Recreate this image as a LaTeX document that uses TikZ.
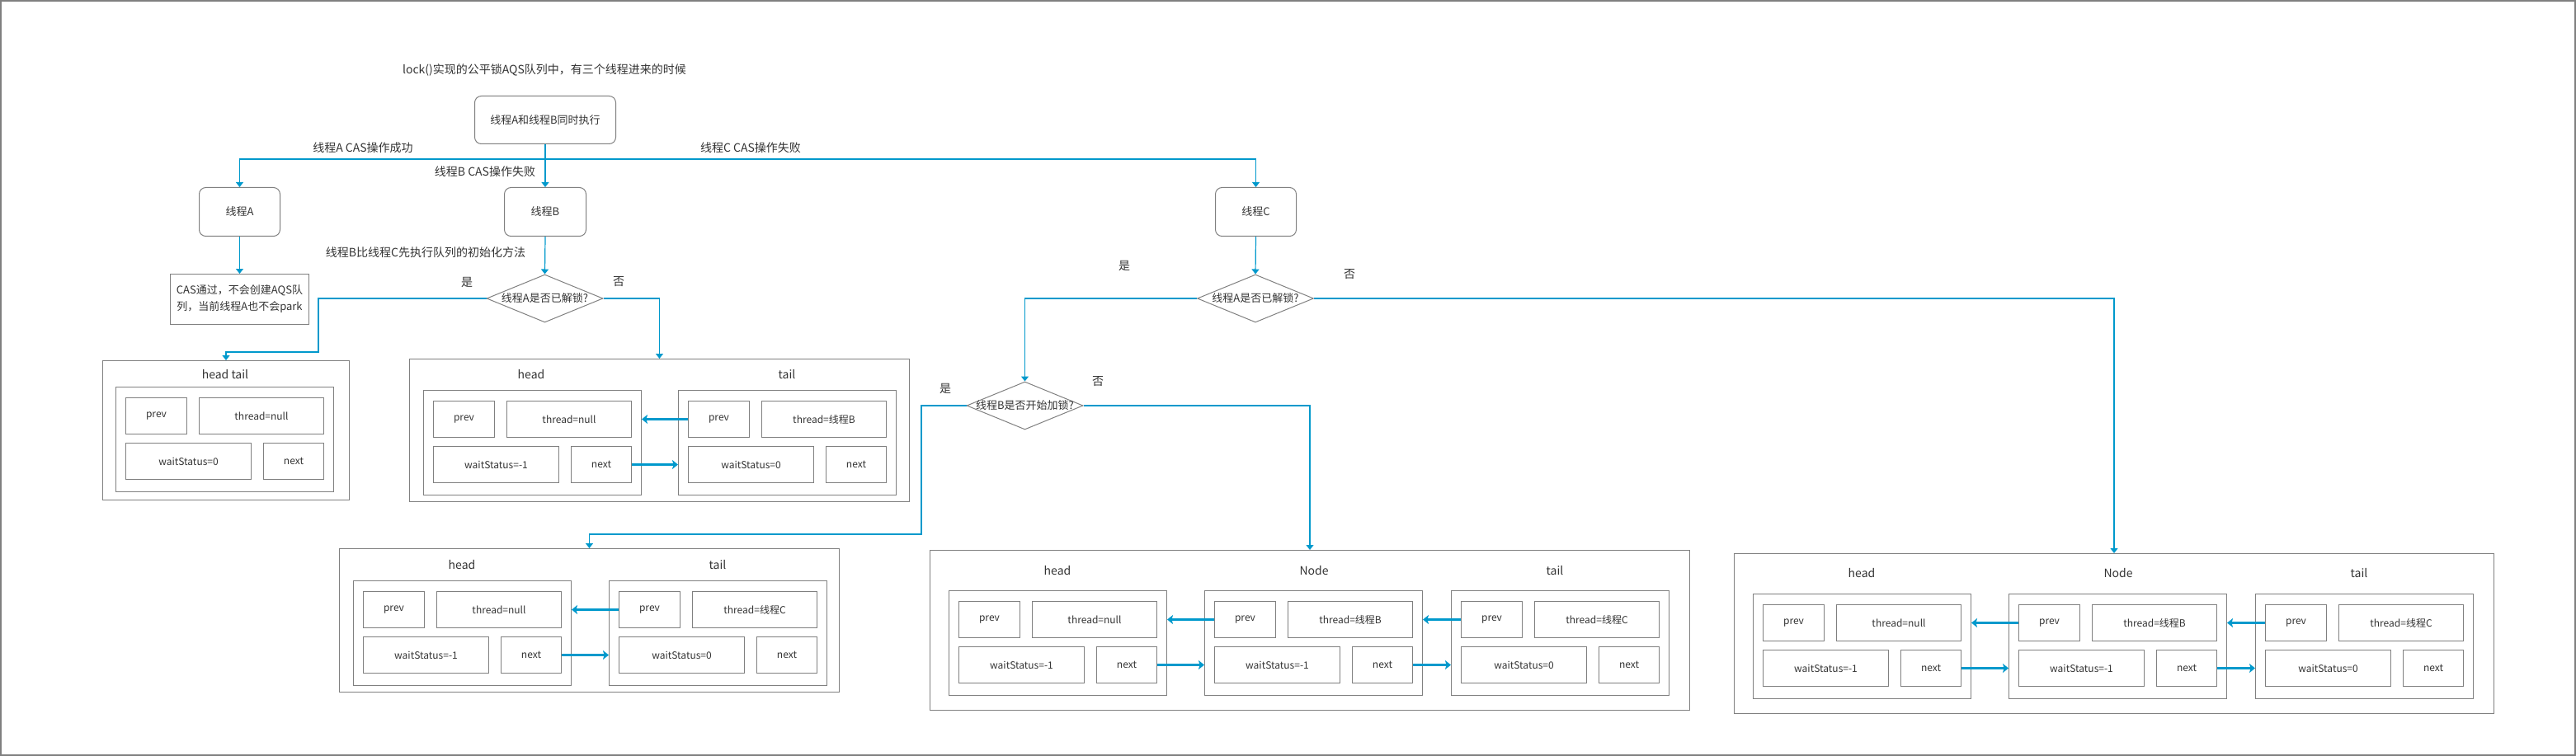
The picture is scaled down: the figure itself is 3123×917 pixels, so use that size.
\documentclass[tikz,border=0pt]{standalone}
\usepackage{fontspec}
\setmainfont{Noto Sans CJK SC}
\usetikzlibrary{arrows.meta,shapes.geometric}
\definecolor{flow}{HTML}{0099CC}
\definecolor{edgec}{HTML}{808080}
\definecolor{txt}{HTML}{333333}
\tikzset{
  box/.style={draw=edgec, line width=1pt, text=txt, inner sep=0pt, anchor=north west, font=\fontsize{12}{14}\selectfont},
  rbox/.style={box, rounded corners=8pt, font=\fontsize{13}{15}\selectfont},
  dia/.style={draw=edgec, line width=1pt, text=txt, diamond, inner sep=0pt, minimum width=141pt, minimum height=58pt, font=\fontsize{13}{15}\selectfont},
  lbl/.style={text=txt, inner sep=0pt, font=\fontsize{14}{16}\selectfont},
  flowline/.style={draw=flow, line width=1.2pt, -{Triangle[width=9pt,length=6pt]}},
  link/.style={draw=flow, line width=2.2pt, -{Stealth[width=11pt,length=7pt,inset=1.5pt]}}
}
\newcommand\qnode[5]{%
  \node[box, minimum width=264pt, minimum height=127pt] (#1) at (#2,#3) {};
  \node[box, minimum width=74pt, minimum height=44pt] (#1-prev) at (#2+12,#3+13) {prev};
  \node[box, minimum width=151pt, minimum height=44pt] (#1-thread) at (#2+101,#3+13) {#4};
  \node[box, minimum width=152pt, minimum height=44pt] (#1-ws) at (#2+12,#3+68) {#5};
  \node[box, minimum width=73pt, minimum height=44pt] (#1-next) at (#2+179,#3+68) {next};
}
\begin{document}
\begin{tikzpicture}[x=1pt,y=-1pt]
\path[use as bounding box] (0,0) rectangle (3123,917);
\draw[edgec, line width=2pt] (1,1) rectangle (3122,916);

% title
\node[lbl] (title) at (660,85) {lock()实现的公平锁AQS队列中，有三个线程进来的时候};

% flow boxes
\node[rbox, minimum width=171pt, minimum height=58pt] (start) at (575,116) {线程A和线程B同时执行};
\node[rbox, minimum width=98pt, minimum height=59pt] (tA) at (241,227) {线程A};
\node[rbox, minimum width=99pt, minimum height=59pt] (tB) at (611,227) {线程B};
\node[rbox, minimum width=98pt, minimum height=59pt] (tC) at (1473,227) {线程C};
\node[box, minimum width=168pt, minimum height=61pt, align=center, font=\fontsize{13}{20}\selectfont] (cas) at (206,332) {CAS通过，不会创建AQS队\\列，当前线程A也不会park};

\node[dia] (d1) at (660.5,362) {\makebox[0pt]{线程A是否已解锁?}};
\node[dia] (dC) at (1522,362) {\makebox[0pt]{线程A是否已解锁?}};
\node[dia] (dD) at (1242.5,492) {\makebox[0pt]{线程B是否开始加锁?}};

% edge labels
\node[lbl] (lA) at (440,179) {线程A CAS操作成功};
\node[lbl] (lB) at (588,208) {线程B CAS操作失败};
\node[lbl] (lC) at (910,179) {线程C CAS操作失败};
\node[lbl] (lInit) at (516,306) {线程B比线程C先执行队列的初始化方法};
\node[lbl] (y1) at (566,342) {是};
\node[lbl] (n1) at (750,342) {否};
\node[lbl] (y2) at (1363,322) {是};
\node[lbl] (n2) at (1636,333) {否};
\node[lbl] (y3) at (1146,471) {是};
\node[lbl] (n3) at (1331,463) {否};

% queue box 1
\node[box, minimum width=299pt, minimum height=169pt] (box1) at (124,437) {};
\node[lbl] (box1-l) at (273,454) {head tail};
\qnode{b1}{140}{469}{thread=null}{waitStatus=0}

% queue box 2
\node[box, minimum width=606pt, minimum height=173pt] (box2) at (496,435) {};
\node[lbl] (box2-lh) at (644,454) {head};
\node[lbl] (box2-lt) at (954,454) {tail};
\qnode{b2h}{513}{473}{thread=null}{waitStatus=-1}
\qnode{b2t}{822}{473}{thread=线程B}{waitStatus=0}

% queue box 3
\node[box, minimum width=606pt, minimum height=174pt] (box3) at (411,665) {};
\node[lbl] (box3-lh) at (560,685) {head};
\node[lbl] (box3-lt) at (870,685) {tail};
\qnode{b3h}{428}{704}{thread=null}{waitStatus=-1}
\qnode{b3t}{738}{704}{thread=线程C}{waitStatus=0}

% queue box 4
\node[box, minimum width=921pt, minimum height=194pt] (box4) at (1127,667) {};
\node[lbl] (box4-lh) at (1282,692) {head};
\node[lbl] (box4-ln) at (1593,692) {Node};
\node[lbl] (box4-lt) at (1885,692) {tail};
\qnode{b4h}{1150}{716}{thread=null}{waitStatus=-1}
\qnode{b4n}{1460}{716}{thread=线程B}{waitStatus=-1}
\qnode{b4t}{1759}{716}{thread=线程C}{waitStatus=0}

% queue box 5
\node[box, minimum width=921pt, minimum height=194pt] (box5) at (2102,671) {};
\node[lbl] (box5-lh) at (2257,695) {head};
\node[lbl] (box5-ln) at (2568,695) {Node};
\node[lbl] (box5-lt) at (2860,695) {tail};
\qnode{b5h}{2125}{720}{thread=null}{waitStatus=-1}
\qnode{b5n}{2435}{720}{thread=线程B}{waitStatus=-1}
\qnode{b5t}{2734}{720}{thread=线程C}{waitStatus=0}

% flow connectors
\draw[flowline] (start.south) -- ++(0,18) -| (tA.north);
\draw[flowline] (start.south) -- ++(0,18) -| (tC.north);
\draw[flowline] (start.south) -- (tB.north);
\draw[flowline] (tA.south) -- (cas.north);
\draw[flowline] (tB.south) -- (d1.north);
\coordinate (k1) at (386,427);
\draw[flowline] (d1.west) -| (k1) -| (box1.north);
\draw[flowline] (d1.east) -| (box2.north);
\draw[flowline] (tC.south) -- (dC.north);
\draw[flowline] (dC.west) -| (dD.north);
\draw[flowline] (dC.east) -| (box5.north);
\coordinate (k2) at (1117,648);
\draw[flowline] (dD.west) -| (k2) -| (box3.north);
\draw[flowline] (dD.east) -| (box4.north);

% links between queue nodes
\draw[link] (b2t-prev.west) -- (b2t-prev.west -| b2h.east);
\draw[link] (b2h-next.east) -- (b2h-next.east -| b2t.west);
\draw[link] (b3t-prev.west) -- (b3t-prev.west -| b3h.east);
\draw[link] (b3h-next.east) -- (b3h-next.east -| b3t.west);
\draw[link] (b4n-prev.west) -- (b4n-prev.west -| b4h.east);
\draw[link] (b4h-next.east) -- (b4h-next.east -| b4n.west);
\draw[link] (b4t-prev.west) -- (b4t-prev.west -| b4n.east);
\draw[link] (b4n-next.east) -- (b4n-next.east -| b4t.west);
\draw[link] (b5n-prev.west) -- (b5n-prev.west -| b5h.east);
\draw[link] (b5h-next.east) -- (b5h-next.east -| b5n.west);
\draw[link] (b5t-prev.west) -- (b5t-prev.west -| b5n.east);
\draw[link] (b5n-next.east) -- (b5n-next.east -| b5t.west);
\end{tikzpicture}
\end{document}
